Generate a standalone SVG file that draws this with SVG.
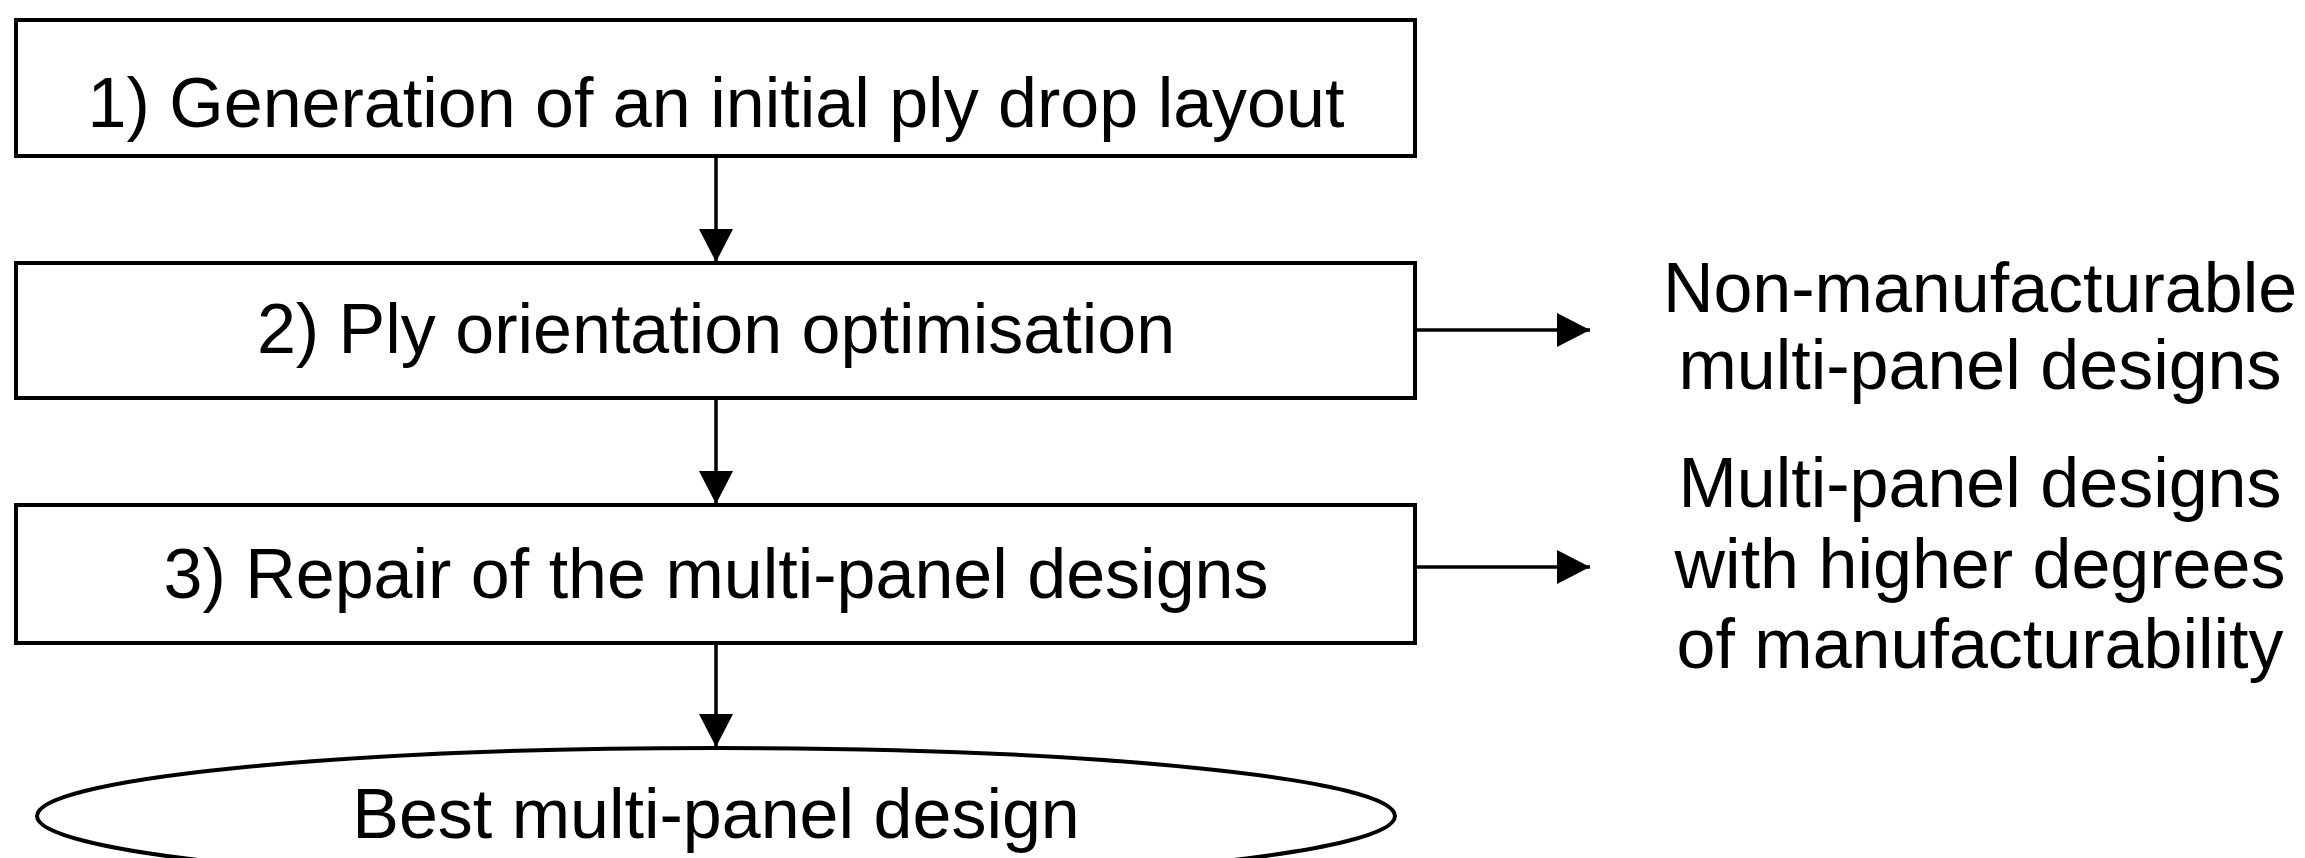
<svg xmlns="http://www.w3.org/2000/svg" width="2305" height="858" viewBox="0 0 2305 858">
  <style>
    .box { fill: #ffffff; stroke: #000000; stroke-width: 4; }
    .lbl { font-family: "Liberation Sans", Arial, sans-serif; font-size: 70px; fill: #000000; text-anchor: middle; }
    .conn { fill: none; stroke: #000000; stroke-width: 3.5; }
  </style>
  <defs>
    <marker id="arrow" markerUnits="userSpaceOnUse" markerWidth="34" markerHeight="36" refX="33" refY="17" orient="auto">
      <path d="M0,0 L33,17 L0,34 z" fill="#000000"/>
    </marker>
  </defs>
  <rect width="2305" height="858" fill="#ffffff"/>

  <g id="step1">
    <rect class="box" x="16" y="20" width="1399" height="136"/>
    <text class="lbl" x="716" y="127">1) Generation of an initial ply drop layout</text>
  </g>
  <g id="step2">
    <rect class="box" x="16" y="263" width="1399" height="135"/>
    <text class="lbl" x="716" y="353">2) Ply orientation optimisation</text>
  </g>
  <g id="step3">
    <rect class="box" x="16" y="505" width="1399" height="138"/>
    <text class="lbl" x="716" y="598">3) Repair of the multi-panel designs</text>
  </g>
  <g id="result">
    <ellipse class="box" cx="716" cy="816" rx="679" ry="68"/>
    <text class="lbl" x="716" y="838">Best multi-panel design</text>
  </g>
  <g id="out1">
    <text class="lbl" x="1980" y="312">Non-manufacturable</text>
    <text class="lbl" x="1980" y="389">multi-panel designs</text>
  </g>
  <g id="out2">
    <text class="lbl" x="1980" y="507">Multi-panel designs</text>
    <text class="lbl" x="1980" y="588">with higher degrees</text>
    <text class="lbl" x="1980" y="668">of manufacturability</text>
  </g>

  <g id="connectors">
    <line class="conn" x1="716" y1="156" x2="716" y2="262" marker-end="url(#arrow)"/>
    <line class="conn" x1="716" y1="398" x2="716" y2="504" marker-end="url(#arrow)"/>
    <line class="conn" x1="716" y1="643" x2="716" y2="747" marker-end="url(#arrow)"/>
    <line class="conn" x1="1415" y1="330" x2="1590" y2="330" marker-end="url(#arrow)"/>
    <line class="conn" x1="1415" y1="567" x2="1590" y2="567" marker-end="url(#arrow)"/>
  </g>
</svg>
